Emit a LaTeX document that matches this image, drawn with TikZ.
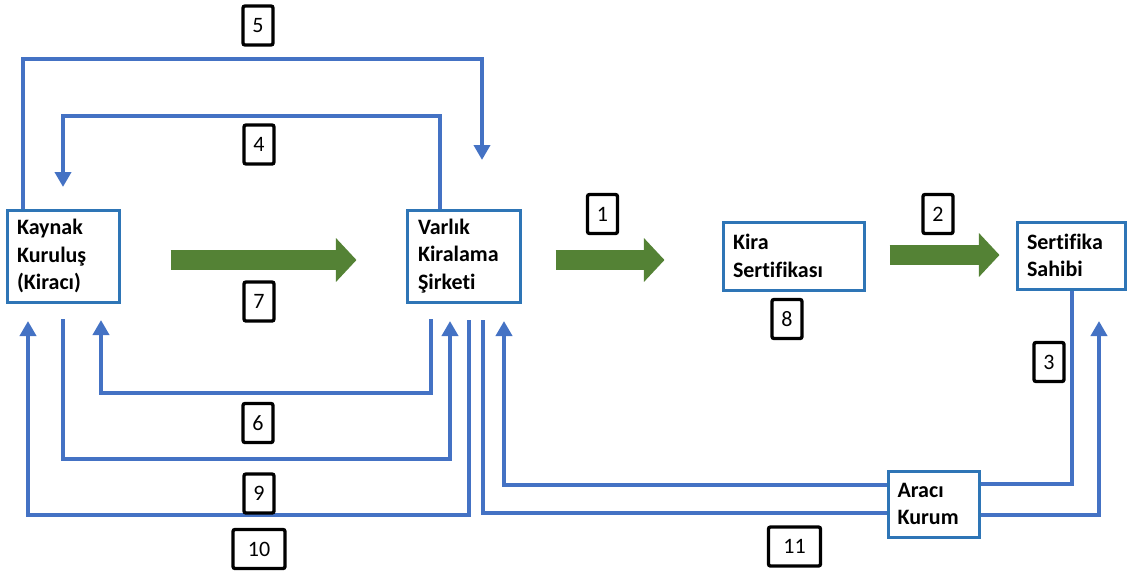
\documentclass[tikz,border=0pt]{standalone}
\usepackage{fontspec}
\setmainfont{Carlito}[Ligatures=NoCommon]
\usetikzlibrary{arrows.meta}
\definecolor{flowblue}{HTML}{4472C4}
\definecolor{boxblue}{HTML}{2E75B6}
\definecolor{flowgreen}{HTML}{548235}

\begin{document}
\begin{tikzpicture}[x=0.75pt,y=-0.75pt,
  party/.style={draw=boxblue, line width=2.25pt, fill=white, align=left,
    inner xsep=7.5pt, inner ysep=0pt,
    font=\fontsize{16.5}{20.6}\selectfont\bfseries},
  stepno/.style={draw=black, line width=2.5pt, rounded corners=1.5pt, fill=white,
    minimum width=22.5pt, minimum height=29.25pt, inner sep=0pt,
    font=\fontsize{16.5}{20}\selectfont},
  bflow/.style={draw=flowblue, line width=3pt},
  btip/.style={-{Triangle[length=11.25pt,width=12pt]}},
  gflow/.style={draw=flowgreen, line width=15pt,
    -{Triangle[length=15.4pt,width=32pt]}}
]
\useasboundingbox (0,0) rectangle (1128,572);

% parties
\node[party, text width=69pt, minimum height=69pt] (kaynak) at (63,256)
  {Kaynak\\Kuruluş\\(Kiracı)};
\node[party, text width=68.25pt, minimum height=69pt, inner xsep=8.25pt] (varlik) at (463.5,256)
  {Varlık\\Kiralama\\Şirketi};
\node[party, text width=90.75pt, minimum height=51pt] (kira) at (793.5,256)
  {Kira\\Sertifikası};
\node[party, text width=66pt, minimum height=50.25pt] (sahibi) at (1071,255.5)
  {Sertifika\\Sahibi};
\node[party, text width=54.75pt, minimum height=49.5pt, inner xsep=7.1pt] (araci) at (934,504)
  {Aracı\\Kurum};

% free ends of the connectors
\coordinate (c5) at (482,59);   \coordinate (t5) at (482,160);
\coordinate (c4) at (63,116);   \coordinate (t4) at (63,187);
\coordinate (s6) at (431,319);  \coordinate (c6) at (101,393);  \coordinate (t6) at (101,320);
\coordinate (s9) at (63,319);   \coordinate (c9) at (450,459);  \coordinate (t9) at (450,321);
\coordinate (s10) at (469,320); \coordinate (c10) at (28,515);  \coordinate (t10) at (28,321);
\coordinate (s11) at (483,320); \coordinate (t11) at (1099,321);
\coordinate (t3) at (504,321);

% blue flows
\draw[bflow, btip] ([xshift=12.75pt]kaynak.north west) |- (c5) -- (t5);
\draw[bflow, btip] ([xshift=25.5pt]varlik.north west) |- (c4) -- (t4);
\draw[bflow, btip] (s6) |- (c6) -- (t6);
\draw[bflow, btip] (s9) |- (c9) -- (t9);
\draw[bflow, btip] (s10) |- (c10) -- (t10);
\draw[bflow] (s11) |- ([yshift=-6.75pt]araci.west);
\draw[bflow, btip] ([yshift=-8.25pt]araci.east) -| (t11);
\draw[bflow] ([xshift=0.75pt]sahibi.south) |- ([yshift=15pt]araci.east);
\draw[bflow, btip] ([yshift=14.25pt]araci.west) -| (t3);

% green transfers
\draw[gflow] ([xshift=37.5pt,yshift=-3pt]kaynak.east) -- ([xshift=-36.75pt,yshift=-3pt]varlik.west);
\draw[gflow] ([xshift=25.5pt,yshift=-3pt]varlik.east) -- ([xshift=-42.75pt,yshift=-3pt]kira.west);
\draw[gflow] ([xshift=18pt,yshift=0.75pt]kira.east) -- ([xshift=-12pt,yshift=0.375pt]sahibi.west);

% step numbers
\node[stepno] (l1) at (602.5,214) {1};
\node[stepno] (l2) at (938,214) {2};
\node[stepno] (l3) at (1049,362) {3};
\node[stepno] (l4) at (259,144.5) {4};
\node[stepno] (l5) at (258,25.5) {5};
\node[stepno] (l6) at (258,423) {6};
\node[stepno] (l7) at (259,301.5) {7};
\node[stepno] (l8) at (787,319) {8};
\node[stepno] (l9) at (259,493.5) {9};
\node[stepno, minimum width=39pt] (l10) at (259,549) {10};
\node[stepno, minimum width=39pt] (l11) at (794.5,546.5) {11};
\end{tikzpicture}
\end{document}
